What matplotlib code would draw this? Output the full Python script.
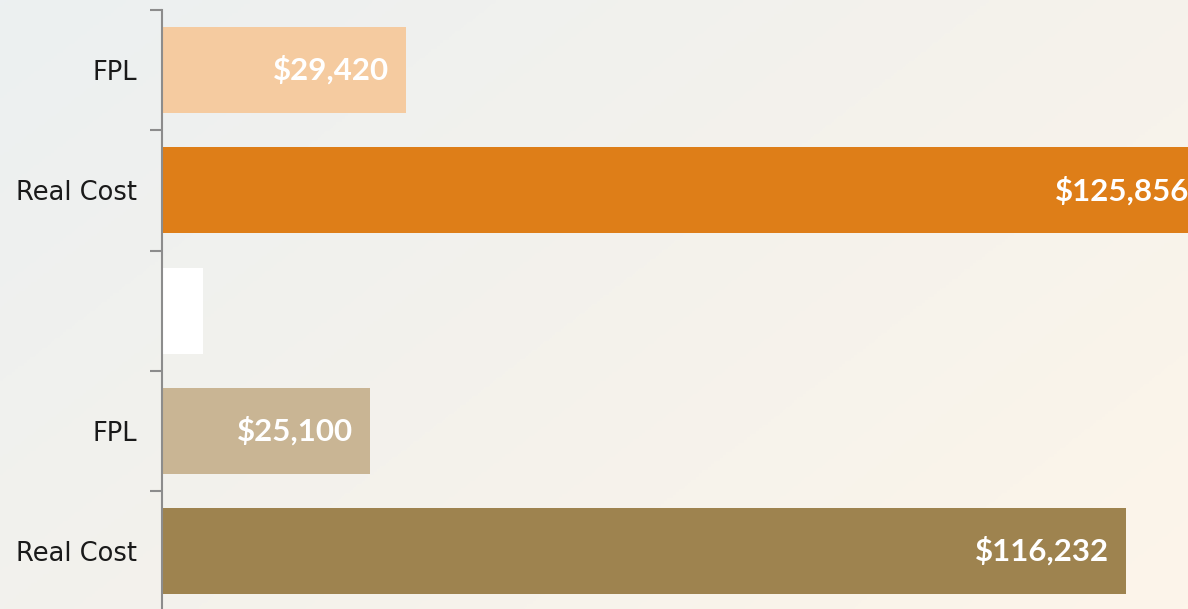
import numpy as np
import matplotlib.pyplot as plt
from matplotlib.colors import LinearSegmentedColormap

categories = ["FPL", "Real Cost", "", "FPL", "Real Cost"]
values = [29420, 125856, 5000, 25100, 116232]
value_labels = ["$29,420", "$125,856", "", "$25,100", "$116,232"]
bar_colors = ["#F5CBA0", "#DE7E18", "#FFFFFF", "#C9B594", "#9E834F"]

W, H = 1188, 609
fig = plt.figure(figsize=(W / 100, H / 100), dpi=100)

# soft diagonal background gradient
bg = fig.add_axes([0, 0, 1, 1])
yy, xx = np.mgrid[0:1:200j, 0:1:400j]
grad = (xx * 0.6 + yy * 0.4)
cmap = LinearSegmentedColormap.from_list("bg", ["#ECF0F1", "#F4F2EC", "#FDF5EA"])
bg.imshow(grad, cmap=cmap, aspect="auto", extent=[0, 1, 0, 1], origin="upper")
bg.axis("off")

px_per_dollar = 964 / 116232
xmax = 130000
left = 162 / W
width = xmax * px_per_dollar / W
bottom = (H - 611.5) / H
height = 601.5 / H
ax = fig.add_axes([left, bottom, width, height])
ax.patch.set_alpha(0)

pos = np.arange(len(categories))
ax.barh(pos, values, height=0.715, color=bar_colors)
ax.set_xlim(0, xmax)
ax.set_ylim(len(categories) - 0.5, -0.5)

pad = 17 / px_per_dollar
for p, v, lab in zip(pos, values, value_labels):
    if lab:
        ax.text(v - pad, p, lab, ha="right", va="center", color="white",
                fontsize=22.5, fontweight="bold", family="Lato")

ax.set_yticks(pos)
ax.set_yticklabels(categories, fontsize=18.5, color="#1a1a1a", family="DejaVu Sans")
ax.set_yticks(np.arange(-0.5, len(categories), 1), minor=True)
ax.tick_params(axis="y", which="major", length=0, pad=18)
ax.tick_params(axis="y", which="minor", length=9, width=1.5, color="#8c8c8c")
ax.set_xticks([])
for s in ["top", "right", "bottom"]:
    ax.spines[s].set_visible(False)
ax.spines["left"].set_color("#8c8c8c")
ax.spines["left"].set_linewidth(1.5)

fig.savefig("out.png", dpi=100)
